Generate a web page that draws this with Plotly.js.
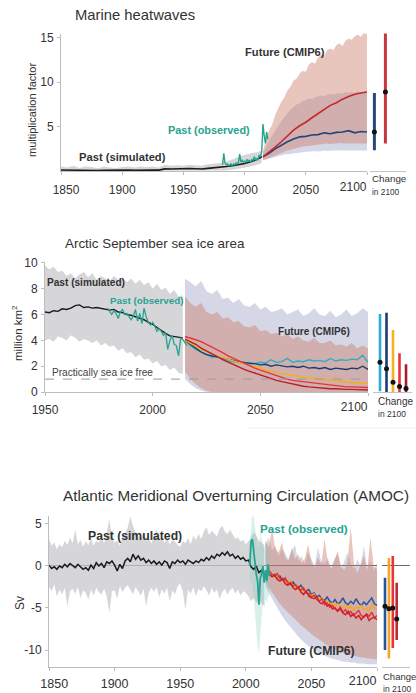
<!DOCTYPE html>
<html><head><meta charset="utf-8">
<script src="https://cdn.plot.ly/plotly-3.0.1.min.js"></script>
<style>html,body{margin:0;padding:0;background:#fff;}#chart{width:416px;height:693px;}</style>
</head><body><div id="chart"></div>
<script>
// ---------- helpers ----------
function span(a, b, s) { const o = []; for (let v = a; v <= b + 1e-9; v += s) o.push(+v.toFixed(2)); return o; }
const NB = '\u00a0';

// ---------- Panel 1: Marine heatwaves ----------
const mhwTicks = [1850, 1900, 1950, 2000, 2050, 2100];
const mhwTickText = [NB + NB + NB + '1850', '1900', '1950', '2000', '2050', '2100'];
const mhwYTicks = [5, 10, 15];
const mhwPastYears = span(1850, 2010, 5).concat([2014]);
const mhwPastSim = [0.12,0.10,0.14,0.08,0.12,0.10,0.06,0.08,0.10,0.06,0.10,0.12,0.08,0.12,0.10,0.12,0.10,0.24,0.22,0.26,0.22,0.28,0.25,0.22,0.30,0.35,0.40,0.50,0.60,0.72,0.85,1.05,1.30,1.60];
const mhwPastHi = [.5,.4,.6,.35,.5,.45,.3,.5,.4,.35,.45,.5,.4,.5,.45,.5,.4,.7,.6,.65,.6,.7,.65,.6,.75,.8,.9,1.1,1.3,1.6,1.8,2.0,2.1,2.3];
const mhwPastLo = [0,0,0,0,0,0,0,0,0,0,0,0,0,0,0,0,0,0,0,0,0,0,0,0,0,0,0,.05,.15,.25,.35,.5,.7,.9];
const mhwObsYears = span(1982, 2019, 1);
const mhwObs = [.7,2.0,.9,.7,.8,.6,.7,.8,.6,.8,.7,.9,.8,1.0,1.9,1.0,1.2,1.0,1.1,1.0,1.3,1.1,1.2,1.0,1.3,1.2,1.6,1.2,1.4,1.3,1.8,1.6,2.2,5.3,4.0,3.1,4.4,3.6];
const mhwFutYears = span(2015, 2100, 5);
const mhwHigh = [1.6,2.1,2.7,3.3,4.0,4.6,5.1,5.5,6.0,6.5,7.0,7.4,7.7,8.1,8.4,8.65,8.8,8.9];
const mhwLow = [1.6,2.0,2.5,2.9,3.3,3.6,3.85,3.9,4.05,4.1,4.3,4.2,4.35,4.4,4.55,4.3,4.45,4.4];
const mhwBandYears = span(2015, 2100, 2.5);
const mhwHighBandHi = [2.2,3.6,4.6,5.2,6.3,7.1,7.8,8.3,9.1,9.5,10.2,10.4,11.0,11.3,11.2,12.0,12.3,12.1,12.8,13.1,13.0,13.6,13.8,13.6,14.2,14.4,14.1,14.7,14.9,14.8,15.2,15.4,15.1,15.6,15.5];
const mhwHighBandLo = [1.2,1.3,1.45,1.6,1.75,1.9,2.0,2.15,2.3,2.4,2.5,2.6,2.7,2.75,2.8,2.85,2.9,2.95,3.0,3.0,3.05,3.1,3.05,3.1,3.1,3.15,3.1,3.1,3.15,3.1,3.1,3.1,3.15,3.1,3.1];
const mhwLowBandHi = [2.0,2.8,3.4,4.0,4.6,5.1,5.6,6.1,6.5,6.9,7.2,7.5,7.6,7.9,8.0,8.2,8.1,8.3,8.4,8.5,8.4,8.6,8.7,8.6,8.7,8.8,8.7,8.9,8.8,8.9,8.8,9.0,8.8,8.9,8.8];
const mhwLowBandLo = [1.2,1.3,1.4,1.5,1.6,1.7,1.75,1.85,1.9,1.95,2.0,2.05,2.1,2.1,2.15,2.2,2.2,2.25,2.2,2.25,2.3,2.25,2.3,2.3,2.35,2.3,2.3,2.35,2.3,2.3,2.35,2.3,2.3,2.35,2.3];
const mhwChangeLo = [2.35, 3.1];
const mhwChangeHi = [8.8, 15.6];
const mhwChangeMid = [4.4, 8.9];

// ---------- Panel 2: Arctic September sea ice area ----------
const iceTicks = [1950, 2000, 2050, 2100];
const iceTickText = ['1950', '2000', '2050', '2100'];
const iceYTicks = [0, 2, 4, 6, 8, 10];
const icePastYears = span(1950, 2014, 2);
const icePastSim = [6.2,6.15,6.3,6.25,6.45,6.4,6.5,6.7,6.75,6.55,6.6,6.5,6.55,6.5,6.45,6.35,6.4,6.2,6.15,6.0,5.95,5.85,5.7,5.6,5.4,5.25,5.0,4.75,4.55,4.35,4.3,4.2,4.2];
const icePastHi = [9.8,9.5,9.7,9.3,9.4,9.0,9.2,8.8,9.1,9.3,8.9,9.2,8.7,9.0,8.8,8.6,9.0,8.7,8.9,8.5,8.8,8.4,8.7,8.3,8.5,8.0,8.4,7.9,8.1,7.6,7.9,7.4,7.5];
const icePastLo = [4.0,4.1,3.9,4.3,4.2,4.0,4.4,4.2,3.9,4.1,4.0,3.8,4.0,3.6,3.8,3.5,3.6,3.2,3.4,3.0,3.1,2.7,2.9,2.5,2.6,2.2,2.4,2.0,2.1,1.7,1.9,1.5,1.4];
const iceObsYears = span(1979, 2016, 1);
const iceObs = [6.5,6.2,6.0,6.3,6.1,5.7,6.2,6.4,6.0,6.1,5.8,5.6,5.9,6.4,5.5,6.1,5.3,6.5,5.8,5.4,5.2,5.4,5.1,4.7,4.9,4.7,4.4,4.6,3.3,4.0,4.4,3.7,3.6,2.8,4.2,4.1,3.8,3.6];
const iceFutYears = span(2015, 2100, 2.5);
const iceSsp119 = [4.0,3.6,3.3,3.1,2.9,2.7,2.75,2.6,2.4,2.35,2.3,2.25,2.3,2.2,2.3,2.25,2.5,2.3,2.35,2.6,2.3,2.4,2.35,2.5,2.4,2.45,2.35,2.6,2.4,2.5,2.45,2.55,2.5,2.85,2.3];
const iceSsp126 = [4.0,3.7,3.4,3.1,2.9,2.8,2.7,2.6,2.5,2.45,2.35,2.3,2.2,2.2,2.1,2.15,2.0,2.1,2.0,1.95,2.0,1.9,2.0,1.85,1.9,1.8,1.9,1.75,1.85,1.8,1.75,1.85,1.8,2.0,1.75];
const iceSsp245 = [4.0,3.8,3.55,3.3,3.1,2.95,2.8,2.65,2.5,2.4,2.3,2.2,2.1,1.95,1.85,1.7,1.6,1.5,1.45,1.35,1.3,1.2,1.15,1.1,1.05,1.0,0.95,0.9,0.85,0.8,0.8,0.75,0.7,0.7,0.65];
const iceSsp370 = [4.3,4.2,4.05,3.9,3.7,3.5,3.3,3.05,2.8,2.6,2.4,2.2,2.0,1.85,1.7,1.55,1.4,1.25,1.1,1.0,0.9,0.85,0.8,0.7,0.65,0.6,0.55,0.5,0.5,0.45,0.4,0.4,0.4,0.35,0.35];
const iceSsp585 = [4.1,3.9,3.7,3.4,3.2,3.0,2.75,2.5,2.3,2.1,1.9,1.75,1.6,1.45,1.3,1.15,1.0,0.9,0.8,0.7,0.6,0.5,0.45,0.4,0.35,0.3,0.3,0.25,0.25,0.2,0.2,0.2,0.2,0.15,0.15];
const iceLowBandHi = [8.8,8.5,8.2,8.6,7.8,7.6,7.9,7.2,7.3,6.9,7.2,6.7,6.6,6.9,6.4,6.6,6.2,6.3,6.5,6.0,6.2,6.4,5.9,6.1,6.5,6.0,5.9,6.3,5.8,6.0,6.4,5.9,6.1,6.5,6.2];
const iceLowBandLo = [1.0,0.6,0.3,0.1,0,0,0,0,0,0,0,0,0,0,0,0,0,0,0,0,0,0,0,0,0,0,0,0,0,0,0,0,0,0,0];
const iceHighBandHi = [7.4,6.9,6.6,6.9,6.2,6.0,6.2,5.7,5.8,5.4,5.5,5.1,5.0,5.2,4.7,4.8,4.5,4.6,4.3,4.5,4.1,4.3,4.0,3.9,4.2,3.8,3.8,4.0,3.6,3.7,3.5,3.8,3.4,3.6,3.4];
const iceHighBandLo = [1.6,1.0,0.6,0.3,0.1,0,0,0,0,0,0,0,0,0,0,0,0,0,0,0,0,0,0,0,0,0,0,0,0,0,0,0,0,0,0];
const iceFreeLevel = 1;
const iceChangeLo = [0.05, 0, 0, 0, 0];
const iceChangeHi = [6.05, 6.15, 4.8, 3.0, 2.15];
const iceChangeMid = [2.3, 1.8, 0.75, 0.42, 0.28];

// ---------- Panel 3: AMOC ----------
const amocTicks = [1850, 1900, 1950, 2000, 2050, 2100];
const amocTickText = [NB + NB + NB + '1850', '1900', '1950', '2000', '2050', '2100'];
const amocYTicks = [-10, -5, 0, 5];
const amocYTickText = ['-10', '-5', '0', '5'];
const amocPastYears = span(1850, 2014, 2);
const amocPastSim = [0.1,-0.3,-0.1,-0.4,0.0,-0.2,0.2,-0.1,0.3,0.1,
  -0.2,0.2,-0.1,-0.4,-0.2,-0.5,0.1,-0.3,0.4,0.0,
  0.3,-0.2,0.5,0.3,0.6,0.1,-0.6,0.2,-0.3,0.6,
  0.9,0.5,1.4,0.8,1.2,0.7,0.9,0.4,0.7,0.3,
  0.6,0.2,0.5,0.1,0.6,0.4,-0.3,0.5,0.3,0.7,
  0.4,0.6,0.2,0.7,0.5,0.3,0.6,0.4,0.8,0.6,
  1.0,0.7,1.2,0.9,1.4,1.2,1.6,1.3,1.7,1.2,
  1.4,0.9,1.2,0.8,1.0,0.6,0.7,-0.1,-0.4,0.0,
  -0.8,-0.5,-1.0];
const amocPastHi = [3.2,2.4,2.8,2.0,2.6,2.2,3.0,2.5,3.4,2.7,
  4.3,2.6,3.1,2.3,2.9,2.5,3.3,2.4,3.0,2.8,
  3.4,2.7,4.0,5.6,3.2,2.8,3.0,2.4,3.5,3.9,
  4.6,5.9,4.8,4.0,3.6,3.2,3.9,3.0,3.4,2.7,
  3.6,4.4,3.0,3.5,2.8,3.3,2.6,3.1,2.9,2.5,
  2.3,3.0,2.7,3.3,2.6,3.6,3.1,3.8,3.2,4.1,
  4.6,3.7,4.2,3.9,3.5,4.4,4.8,4.1,3.8,4.3,
  3.7,3.2,3.4,2.9,3.1,2.6,2.9,3.5,4.0,3.6,
  3.0,2.8,2.5];
const amocPastLo = [-2.5,-3.0,-2.2,-3.6,-2.8,-3.4,-2.6,-4.8,-3.0,-2.7,
  -3.3,-2.5,-3.8,-2.9,-3.2,-4.0,-2.8,-3.5,-2.6,-3.1,
  -3.4,-2.7,-3.6,-5.6,-3.0,-2.9,-3.9,-2.4,-3.1,-2.6,
  -2.3,-2.8,-3.4,-2.5,-3.0,-3.5,-2.7,-4.8,-3.2,-2.6,
  -3.1,-2.5,-3.7,-2.8,-3.3,-2.6,-4.2,-2.9,-3.4,-2.4,
  -2.1,-3.0,-5.2,-2.8,-3.3,-2.5,-3.6,-2.7,-3.0,-2.4,
  -2.9,-3.5,-2.6,-3.2,-2.8,-3.9,-3.1,-2.7,-3.4,-2.9,
  -2.6,-3.3,-2.8,-3.5,-3.0,-3.2,-3.6,-4.2,-3.8,-4.4,
  -4.0,-4.5,-4.8];
const amocObsYears = span(2003, 2018, 1);
const amocObs = [0.0,2.9,3.2,1.5,0.6,-1.0,-1.8,-4.6,-1.5,-1.0,0.0,-2.0,-0.5,-1.8,0.2,-1.2];
const amocObsHi = [2.5,5.0,6.5,6.0,4.5,3.5,2.5,2.0,4.0,3.0,2.5,2.0,3.0,2.0,2.5,1.5];
const amocObsLo = [-2.5,-1.5,-2.0,-4.0,-6.0,-8.0,-9.5,-10.5,-8.0,-5.5,-4.0,-5.0,-4.0,-4.5,-3.5,-3.5];
const amocFutYears = span(2018, 2100, 2);
const amocSsp126 = [-0.8,-1.1,-1.0,-1.4,-1.2,-1.7,-1.6,-1.9,-2.2,-1.9,
  -2.4,-2.6,-2.3,-2.9,-3.0,-2.8,-3.4,-3.2,-3.7,-3.5,
  -3.9,-4.1,-3.7,-4.2,-4.4,-4.0,-4.5,-4.3,-3.8,-4.4,
  -4.6,-4.2,-4.5,-3.9,-4.4,-4.7,-4.3,-4.6,-4.2,-3.8,
  -4.5,-4.7];
const amocSsp245 = [-0.9,-1.0,-1.3,-1.2,-1.6,-1.5,-1.9,-2.1,-1.8,-2.4,
  -2.5,-2.7,-2.6,-3.1,-2.9,-3.4,-3.5,-3.3,-3.9,-4.0,
  -3.8,-4.3,-4.2,-4.6,-4.4,-4.8,-4.5,-4.9,-5.0,-4.6,
  -5.1,-4.8,-5.3,-4.9,-5.0,-4.7,-5.2,-5.0,-5.4,-4.6,
  -5.0,-5.1];
const amocSsp370 = [-0.6,-1.0,-1.2,-0.9,-1.5,-1.7,-1.4,-2.0,-2.1,-2.4,
  -2.2,-2.7,-2.9,-2.6,-3.2,-3.3,-3.7,-3.5,-4.0,-4.2,
  -3.9,-4.6,-4.4,-4.9,-4.7,-5.1,-5.3,-4.9,-5.5,-5.2,
  -5.7,-5.4,-5.9,-5.6,-5.3,-5.9,-6.1,-5.7,-6.0,-5.5,
  -6.2,-5.9];
const amocSsp585 = [-1.0,-1.3,-1.1,-1.6,-1.8,-1.5,-2.1,-2.3,-2.0,-2.6,
  -2.8,-2.5,-3.1,-3.4,-3.0,-3.6,-3.8,-3.9,-3.6,-4.3,
  -4.5,-4.2,-4.8,-4.6,-5.1,-5.0,-5.4,-5.1,-5.6,-5.8,
  -5.4,-6.0,-5.7,-6.2,-5.9,-6.4,-6.0,-5.8,-6.5,-6.2,
  -6.1,-6.4];
const amocBandYears = span(2015, 2100, 2.5);
const amocHighBandHi = [3.0,2.2,4.5,2.0,1.6,2.8,1.0,0.6,2.2,0.8,1.4,0.3,0.9,2.6,0.4,-0.2,1.0,0.2,3.2,0.5,-0.3,0.6,1.8,0.0,-0.5,0.4,4.6,0.2,-0.8,0.3,1.2,-0.6,3.4,0.0,-0.4];
const amocHighBandLo = [-2.0,-2.6,-3.2,-3.8,-4.3,-4.8,-5.2,-5.6,-6.0,-6.4,-6.8,-7.1,-7.4,-7.8,-8.1,-8.4,-8.7,-9.0,-9.2,-9.5,-9.7,-9.9,-10.1,-10.2,-10.4,-10.5,-10.6,-10.7,-10.8,-10.9,-10.9,-11.0,-11.0,-11.1,-11.1];
const amocLowBandHi = [2.6,3.4,1.8,2.4,1.2,2.0,1.5,0.8,1.8,2.5,0.6,1.2,0.2,1.6,0.8,0.0,2.2,0.6,0.2,1.0,-0.2,0.8,1.4,-0.3,0.5,1.6,0.2,-0.4,0.8,0.0,2.4,-0.2,0.6,-0.6,0.4];
const amocLowBandLo = [-2.5,-3.2,-3.9,-4.6,-5.3,-5.9,-6.5,-7.0,-7.5,-8.0,-8.4,-8.8,-9.2,-9.5,-9.8,-10.1,-10.3,-10.5,-10.7,-10.9,-11.0,-11.1,-11.2,-11.3,-11.4,-11.4,-11.5,-11.5,-11.6,-11.6,-11.6,-11.7,-11.7,-11.7,-11.7];
const amocChangeLo = [-10.0, -11.0, -9.75, -8.8];
const amocChangeHi = [-1.4, 0.95, 1.2, -2.0];
const amocChangeMid = [-4.8, -5.1, -5.0, -6.3];

// ---------- styling ----------
const W = 416, H = 693;
const px = v => v / W, py = v => 1 - v / H;
const FONT = '"Liberation Sans", Arial, Helvetica, sans-serif';
const TXT = '#333333';
const TEAL = '#26a391';
const GREY_BAND = 'rgba(200,200,204,0.75)';
const LAV_BAND = 'rgba(140,145,185,0.36)';
const PINK_BAND = 'rgba(200,118,98,0.42)';

function band(xs, lo, hi, fill, xa, ya) {
  return [
    {x: xs, y: lo, xaxis: xa, yaxis: ya, mode: 'lines', line: {width: 0, color: 'rgba(0,0,0,0)'}, hoverinfo: 'skip'},
    {x: xs, y: hi, xaxis: xa, yaxis: ya, mode: 'lines', line: {width: 0, color: 'rgba(0,0,0,0)'}, fill: 'tonexty', fillcolor: fill, hoverinfo: 'skip'}
  ];
}
function line(xs, ys, color, w, xa, ya) {
  return {x: xs, y: ys, xaxis: xa, yaxis: ya, mode: 'lines', line: {color: color, width: w}, hoverinfo: 'skip'};
}
function changeBars(lo, hi, mid, colors, xa, ya, w) {
  const t = [];
  for (let i = 0; i < lo.length; i++) {
    t.push({x: [i + 1, i + 1], y: [lo[i], hi[i]], xaxis: xa, yaxis: ya, mode: 'lines', line: {color: colors[i], width: w}, hoverinfo: 'skip'});
  }
  t.push({x: mid.map((_, i) => i + 1), y: mid, xaxis: xa, yaxis: ya, mode: 'markers', marker: {color: '#111', size: 5}, hoverinfo: 'skip'});
  return t;
}
// empty trace that only registers an overlay axis so it gets drawn
function axisHolder(xa, ya) {
  return {x: [], y: [], xaxis: xa, yaxis: ya, mode: 'lines', hoverinfo: 'skip'};
}

const traces = [
  // panel 1
  ...band(mhwPastYears, mhwPastLo, mhwPastHi, GREY_BAND, 'x', 'y'),
  ...band(mhwBandYears, mhwLowBandLo, mhwLowBandHi, LAV_BAND, 'x', 'y'),
  ...band(mhwBandYears, mhwHighBandLo, mhwHighBandHi, PINK_BAND, 'x', 'y'),
  line(mhwPastYears, mhwPastSim, '#1a1a1a', 1.6, 'x', 'y'),
  line(mhwFutYears, mhwLow, '#23447a', 1.6, 'x', 'y'),
  line(mhwFutYears, mhwHigh, '#c8262e', 1.6, 'x', 'y'),
  line(mhwObsYears, mhwObs, TEAL, 1.4, 'x', 'y'),
  ...changeBars(mhwChangeLo, mhwChangeHi, mhwChangeMid, ['#27497a', '#c8363d'], 'x4', 'y', 3),
  axisHolder('x7', 'y'),
  // panel 2
  ...band(icePastYears, icePastLo, icePastHi, GREY_BAND, 'x2', 'y2'),
  ...band(iceFutYears, iceLowBandLo, iceLowBandHi, LAV_BAND, 'x2', 'y2'),
  ...band(iceFutYears, iceHighBandLo, iceHighBandHi, PINK_BAND, 'x2', 'y2'),
  line(icePastYears, icePastSim, '#1a1a1a', 1.4, 'x2', 'y2'),
  line(iceObsYears, iceObs, TEAL, 1.3, 'x2', 'y2'),
  line(iceFutYears, iceSsp119, '#2bafc4', 1.4, 'x2', 'y2'),
  line(iceFutYears, iceSsp126, '#1d3d6e', 1.4, 'x2', 'y2'),
  line(iceFutYears, iceSsp245, '#f2b01e', 1.4, 'x2', 'y2'),
  line(iceFutYears, iceSsp370, '#e8333a', 1.4, 'x2', 'y2'),
  line(iceFutYears, iceSsp585, '#b81e2a', 1.4, 'x2', 'y2'),
  ...changeBars(iceChangeLo, iceChangeHi, iceChangeMid, ['#2aabd6', '#1d3d6e', '#f5b320', '#e8333a', '#a51d2a'], 'x5', 'y2', 2.6),
  axisHolder('x8', 'y2'),
  // panel 3
  ...band(amocPastYears, amocPastLo, amocPastHi, GREY_BAND, 'x3', 'y3'),
  ...band(amocBandYears, amocLowBandLo, amocLowBandHi, LAV_BAND, 'x3', 'y3'),
  ...band(amocBandYears, amocHighBandLo, amocHighBandHi, PINK_BAND, 'x3', 'y3'),
  ...band(amocObsYears, amocObsLo, amocObsHi, 'rgba(130,205,190,0.3)', 'x3', 'y3'),
  line(amocPastYears, amocPastSim, '#1a1a1a', 1.5, 'x3', 'y3'),
  line(amocFutYears, amocSsp126, '#2456a0', 1.5, 'x3', 'y3'),
  line(amocFutYears, amocSsp245, '#f5a623', 1.5, 'x3', 'y3'),
  line(amocFutYears, amocSsp370, '#e8333a', 1.5, 'x3', 'y3'),
  line(amocFutYears, amocSsp585, '#d0202c', 1.5, 'x3', 'y3'),
  line(amocObsYears, amocObs, TEAL, 1.8, 'x3', 'y3'),
  ...changeBars(amocChangeLo, amocChangeHi, amocChangeMid, ['#2456a0', '#f5a623', '#e8333a', '#c0283a'], 'x6', 'y3', 2.6),
  axisHolder('x9', 'y3')
];

// main x axis: all tick labels except the last one, which goes on an overlay axis right-aligned to its tick
function mainX(domain, range, ticks, text, anchor, fs, standoff) {
  return {domain: domain, range: range, anchor: anchor, tickmode: 'array',
    tickvals: ticks.slice(0, -1), ticktext: text.slice(0, -1),
    showline: true, linecolor: '#bdbdbd', linewidth: 1,
    ticks: 'outside', ticklen: 3, tickcolor: '#bdbdbd', tickfont: {family: FONT, size: fs, color: TXT},
    showgrid: false, zeroline: false, fixedrange: true, ticklabelstandoff: standoff};
}
function endX(domain, range, ticks, text, anchor, over, fs, standoff) {
  return {domain: domain, range: range, anchor: anchor, overlaying: over, tickmode: 'array',
    tickvals: ticks.slice(-1), ticktext: text.slice(-1), ticklabelposition: 'outside left',
    showline: false, ticks: 'outside', ticklen: 3, tickcolor: '#bdbdbd', tickfont: {family: FONT, size: fs, color: TXT},
    showgrid: false, zeroline: false, fixedrange: true, ticklabelstandoff: standoff};
}
function mainY(domain, range, ticks, anchor, fs) {
  return {domain: domain, range: range, anchor: anchor, tickmode: 'array', tickvals: ticks, showline: true, linecolor: '#bdbdbd', linewidth: 1,
    ticks: 'outside', ticklen: 3, tickcolor: '#bdbdbd', tickfont: {family: FONT, size: fs, color: TXT},
    showgrid: false, zeroline: false, fixedrange: true, ticklabelstandoff: 1};
}
function changeX(domain, range, anchor) {
  return {domain: domain, range: range, anchor: anchor, showline: true, linecolor: '#c4c4c4', linewidth: 1,
    showticklabels: false, ticks: '', showgrid: false, zeroline: false, fixedrange: true};
}

const y3 = mainY([py(666.8), py(516.4)], [-12, 5.9], amocYTicks, 'x3', 12);
y3.ticktext = amocYTickText;
y3.zeroline = true; y3.zerolinecolor = '#6b6b6b'; y3.zerolinewidth = 1; y3.layer = 'above traces';

function ann(text, x, y, size, color, opts) {
  return Object.assign({text: text, x: px(x), y: py(y), xref: 'paper', yref: 'paper', xanchor: 'left', yanchor: 'middle',
    showarrow: false, borderpad: 0, font: {family: FONT, size: size, color: color || TXT}}, opts || {});
}
const ROT = {textangle: -90, xanchor: 'center'};

const annotations = [
  ann('Marine heatwaves', 74, 15, 14.8),
  ann('multiplication factor', 32, 110, 11, TXT, ROT),
  ann('<b>Past (simulated)</b>', 78, 157, 11.2),
  ann('<b>Past (observed)</b>', 167, 130, 10.9, TEAL),
  ann('<b>Future (CMIP6)</b>', 244, 52, 11.2),
  ann('Change', 371, 178.5, 9.8),
  ann('in 2100', 371, 191.5, 8.3),

  ann('Arctic September sea ice area', 64, 244, 13.4),
  ann('million km<sup>2</sup>', 17, 333, 11.5, TXT, ROT),
  ann('<b>Past (simulated)</b>', 46, 282, 10.1),
  ann('<b>Past (observed)</b>', 109, 300, 9.8, TEAL),
  ann('<b>Future (CMIP6)</b>', 277, 331, 10.1),
  ann('Practically sea ice free', 51, 373, 10.1, '#444'),
  ann('Change', 377, 401, 10),
  ann('in 2100', 377, 413.5, 8.5),

  ann('Atlantic Meridional Overturning Circulation (AMOC)', 62, 495, 15.3),
  ann('Sv', 20, 603, 12, TXT, ROT),
  ann('<b>Past (simulated)</b>', 87, 536, 12.2),
  ann('<b>Past (observed)</b>', 259, 528, 11.7, TEAL),
  ann('<b>Future (CMIP6)</b>', 267, 651, 12.2),
  ann('Change', 382, 676.5, 9.5),
  ann('in 2100', 382, 688.5, 8.6)
];

const shapes = [
  {type: 'line', xref: 'x2', yref: 'y2', x0: iceTicks[0], x1: iceTicks[iceTicks.length - 1], y0: iceFreeLevel, y1: iceFreeLevel,
   line: {color: '#9a9a9a', width: 1, dash: 'dash'}, layer: 'above'},
  {type: 'line', xref: 'paper', yref: 'paper', x0: px(248), x1: 1, y0: py(428), y1: py(428), line: {color: '#ececec', width: 1}}
];

const d1 = [px(61), px(367)], d2 = [px(45), px(368)], d3 = [px(49), px(377)];
const layout = {
  width: W, height: H, margin: {l: 0, r: 0, t: 0, b: 0}, showlegend: false,
  paper_bgcolor: '#ffffff', plot_bgcolor: 'rgba(0,0,0,0)', hovermode: false,
  xaxis: mainX(d1, [1850, 2100], mhwTicks, mhwTickText, 'y', 12, 5),
  xaxis7: endX(d1, [1850, 2100], mhwTicks, mhwTickText, 'y', 'x', 12, 5),
  yaxis: mainY([py(171), py(33.5)], [0, 15.5], mhwYTicks, 'x', 12),
  xaxis4: changeX([px(370), px(406)], [0.6, 3.87], 'y'),
  xaxis2: mainX(d2, [1950, 2100], iceTicks, iceTickText, 'y2', 12, 4),
  xaxis8: endX(d2, [1950, 2100], iceTicks, iceTickText, 'y2', 'x2', 12, 4),
  yaxis2: mainY([py(392), py(261.7)], [0, 10.1], iceYTicks, 'x2', 12),
  xaxis5: changeX([px(373), px(412)], [-0.077, 5.92], 'y2'),
  xaxis3: mainX(d3, [1850, 2100], amocTicks, amocTickText, 'y3', 12.5, 2),
  xaxis9: endX(d3, [1850, 2100], amocTicks, amocTickText, 'y3', 'x3', 12.5, 2),
  yaxis3: y3,
  xaxis6: changeX([px(382), px(410)], [0.23, 7.41], 'y3'),
  annotations: annotations,
  shapes: shapes
};

Plotly.newPlot('chart', traces, layout, {staticPlot: true, displayModeBar: false});
</script></body></html>
